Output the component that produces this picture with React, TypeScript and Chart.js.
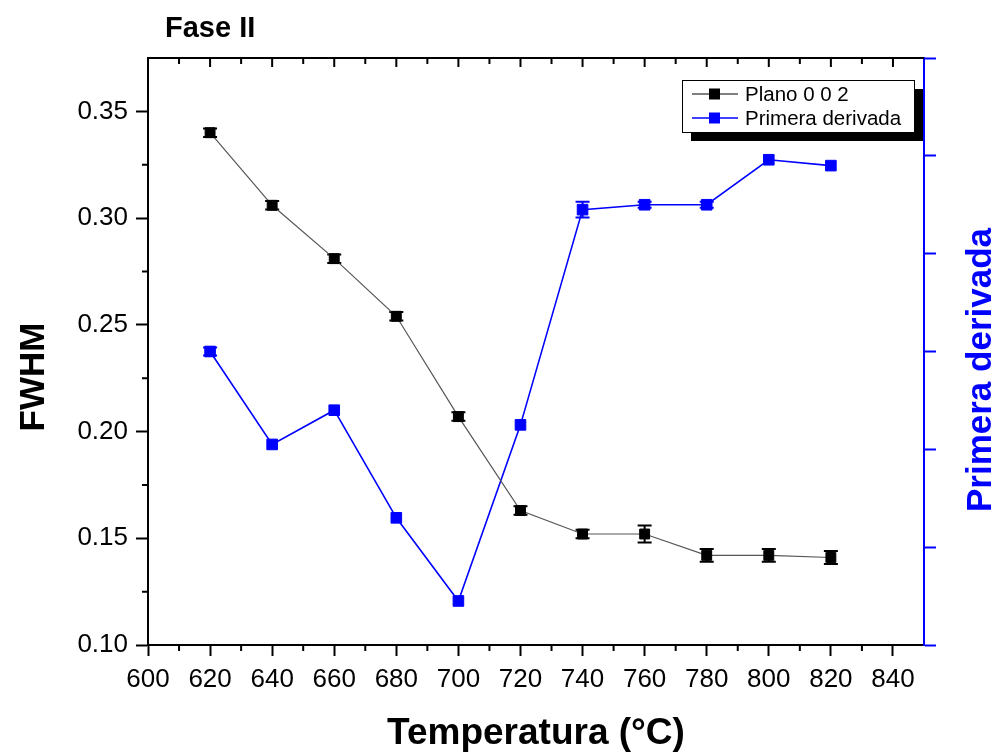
import React, { useEffect, useRef } from 'react';
import { Chart, registerables } from 'chart.js';

Chart.register(...registerables);

const temperatures = [620, 640, 660, 680, 700, 720, 740, 760, 780, 800, 820];
const fwhmPlano002 = [0.340, 0.306, 0.281, 0.254, 0.207, 0.163, 0.152, 0.152, 0.142, 0.142, 0.141];
const fwhmErrors = [0.002, 0.002, 0.002, 0.002, 0.002, 0.002, 0.002, 0.004, 0.003, 0.003, 0.003];
const primeraDerivada = [3.0, 2.05, 2.4, 1.3, 0.45, 2.25, 4.45, 4.5, 4.5, 4.96, 4.9];
const derivadaErrors = [0.04, 0, 0, 0, 0, 0, 0.08, 0.03, 0.03, 0, 0];

const xTickValues = [600, 620, 640, 660, 680, 700, 720, 740, 760, 780, 800, 820, 840];
const xMinorTickValues = [610, 630, 650, 670, 690, 710, 730, 750, 770, 790, 810, 830];
const yTickValues = [0.10, 0.15, 0.20, 0.25, 0.30, 0.35];
const yMinorTickValues = [0.125, 0.175, 0.225, 0.275, 0.325];
const y1TickValues = [0, 1, 2, 3, 4, 5, 6];

const seriesNames = ['Plano 0 0 2', 'Primera derivada'];
const chartTitle = 'Fase II';
const xTitle = 'Temperatura (°C)';
const yTitle = 'FWHM';
const y1Title = 'Primera derivada';

const FONT = "'Liberation Sans', Arial, sans-serif";
const BLUE = '#0000ff';

const decorPlugin = {
  id: 'decor',
  beforeDatasetsDraw(chart: any) {
    const ctx = chart.ctx;
    const x = chart.scales.x;
    const y = chart.scales.y;
    const y1 = chart.scales.y1;
    ctx.save();
    ctx.lineWidth = 2;
    const drawErr = (vals: number[], errs: number[], scale: any, color: string) => {
      ctx.strokeStyle = color;
      vals.forEach((v, i) => {
        const e = errs[i];
        if (!e) return;
        const px = x.getPixelForValue(temperatures[i]);
        const top = scale.getPixelForValue(v + e);
        const bot = scale.getPixelForValue(v - e);
        ctx.beginPath();
        ctx.moveTo(px, top);
        ctx.lineTo(px, bot);
        ctx.moveTo(px - 7, top);
        ctx.lineTo(px + 7, top);
        ctx.moveTo(px - 7, bot);
        ctx.lineTo(px + 7, bot);
        ctx.stroke();
      });
    };
    drawErr(fwhmPlano002, fwhmErrors, y, '#000');
    drawErr(primeraDerivada, derivadaErrors, y1, BLUE);
    ctx.restore();
  },
  afterDraw(chart: any) {
    const ctx = chart.ctx;
    const area = chart.chartArea;
    const x = chart.scales.x;
    const y = chart.scales.y;
    ctx.save();
    ctx.strokeStyle = '#000';
    ctx.lineWidth = 2;
    ctx.beginPath();
    ctx.moveTo(area.left, area.top);
    ctx.lineTo(area.right, area.top);
    ctx.stroke();
    ctx.beginPath();
    xTickValues.forEach((v) => {
      const px = x.getPixelForValue(v);
      ctx.moveTo(px, area.top);
      ctx.lineTo(px, area.top + 9);
    });
    xMinorTickValues.forEach((v) => {
      const px = x.getPixelForValue(v);
      ctx.moveTo(px, area.top);
      ctx.lineTo(px, area.top + 6);
    });
    xMinorTickValues.forEach((v) => {
      const px = x.getPixelForValue(v);
      ctx.moveTo(px, area.bottom);
      ctx.lineTo(px, area.bottom + 6);
    });
    yMinorTickValues.forEach((v) => {
      const py = y.getPixelForValue(v);
      ctx.moveTo(area.left, py);
      ctx.lineTo(area.left - 6, py);
    });
    ctx.stroke();

    ctx.fillStyle = '#000';
    ctx.textBaseline = 'middle';
    ctx.textAlign = 'left';
    ctx.font = `bold 29px ${FONT}`;
    ctx.fillText(chartTitle, area.left + 17, 29);

    ctx.textAlign = 'center';
    ctx.font = `bold 37px ${FONT}`;
    ctx.fillText(xTitle, (area.left + area.right) / 2, 734);

    ctx.save();
    ctx.translate(34, 377);
    ctx.rotate(-Math.PI / 2);
    ctx.font = `bold 35px ${FONT}`;
    ctx.fillText(yTitle, 0, 0);
    ctx.restore();

    ctx.save();
    ctx.translate(981, 370);
    ctx.rotate(-Math.PI / 2);
    ctx.fillStyle = BLUE;
    ctx.font = `bold 35px ${FONT}`;
    ctx.fillText(y1Title, 0, 0);
    ctx.restore();

    const bx = area.right - 242;
    const by = area.top + 22;
    const bw = 232;
    const bh = 52;
    ctx.fillStyle = '#000';
    ctx.fillRect(bx + 9, by + 9, bw, bh);
    ctx.fillStyle = '#fff';
    ctx.fillRect(bx, by, bw, bh);
    ctx.strokeStyle = '#000';
    ctx.lineWidth = 1;
    ctx.strokeRect(bx + 0.5, by + 0.5, bw, bh);
    const rows = [
      { label: seriesNames[0], line: '#555', fill: '#000', cy: by + 14 },
      { label: seriesNames[1], line: BLUE, fill: BLUE, cy: by + 38 },
    ];
    rows.forEach((r) => {
      ctx.strokeStyle = r.line;
      ctx.lineWidth = 1.5;
      ctx.beginPath();
      ctx.moveTo(bx + 10, r.cy);
      ctx.lineTo(bx + 56, r.cy);
      ctx.stroke();
      ctx.fillStyle = r.fill;
      ctx.fillRect(bx + 27, r.cy - 5.5, 11, 11);
      ctx.fillStyle = '#000';
      ctx.textAlign = 'left';
      ctx.textBaseline = 'middle';
      ctx.font = `20.5px ${FONT}`;
      ctx.fillText(r.label, bx + 63, r.cy + 1);
    });
    ctx.restore();
  },
};

export default function App() {
  const canvasRef = useRef<HTMLCanvasElement | null>(null);

  useEffect(() => {
    if (!canvasRef.current) return;
    const chart = new Chart(canvasRef.current, {
      type: 'line',
      data: {
        datasets: [
          {
            label: seriesNames[0],
            data: temperatures.map((t, i) => ({ x: t, y: fwhmPlano002[i] })),
            yAxisID: 'y',
            borderColor: '#555',
            borderWidth: 1.2,
            backgroundColor: '#000',
            pointBackgroundColor: '#000',
            pointBorderColor: '#000',
            pointStyle: 'rect',
            pointRadius: 7,
            pointBorderWidth: 1,
          },
          {
            label: seriesNames[1],
            data: temperatures.map((t, i) => ({ x: t, y: primeraDerivada[i] })),
            yAxisID: 'y1',
            borderColor: BLUE,
            borderWidth: 1.6,
            backgroundColor: BLUE,
            pointBackgroundColor: BLUE,
            pointBorderColor: BLUE,
            pointStyle: 'rect',
            pointRadius: 7.5,
            pointBorderWidth: 1,
          },
        ],
      },
      options: {
        animation: false,
        responsive: true,
        maintainAspectRatio: false,
        layout: { padding: { top: 58, left: 0, right: 0, bottom: 0 } },
        plugins: {
          legend: { display: false },
          title: { display: false },
          tooltip: { enabled: false },
        },
        scales: {
          x: {
            type: 'linear',
            position: 'bottom',
            min: 600,
            max: 850,
            afterBuildTicks: (scale: any) => {
              scale.ticks = xTickValues.map((v) => ({ value: v }));
            },
            afterFit: (scale: any) => {
              scale.height = 108;
            },
            grid: {
              drawOnChartArea: false,
              drawTicks: true,
              tickLength: 11,
              tickColor: '#000',
              tickWidth: 2,
            },
            border: { color: '#000', width: 2 },
            ticks: {
              color: '#000',
              font: { family: FONT, size: 26 },
              padding: 8,
              autoSkip: false,
              maxRotation: 0,
              callback: (v: any) => String(v),
            },
          },
          y: {
            type: 'linear',
            position: 'left',
            min: 0.1,
            max: 0.375,
            afterBuildTicks: (scale: any) => {
              scale.ticks = yTickValues.map((v) => ({ value: v }));
            },
            afterFit: (scale: any) => {
              scale.width = 148;
            },
            grid: {
              drawOnChartArea: false,
              drawTicks: true,
              tickLength: 12,
              tickColor: '#000',
              tickWidth: 2,
            },
            border: { color: '#000', width: 2 },
            ticks: {
              color: '#000',
              font: { family: FONT, size: 26 },
              padding: 8,
              callback: (v: any) => Number(v).toFixed(2),
            },
          },
          y1: {
            type: 'linear',
            position: 'right',
            min: 0,
            max: 6,
            afterBuildTicks: (scale: any) => {
              scale.ticks = y1TickValues.map((v) => ({ value: v }));
            },
            afterFit: (scale: any) => {
              scale.width = 72;
            },
            grid: {
              drawOnChartArea: false,
              drawTicks: true,
              tickLength: 12,
              tickColor: BLUE,
              tickWidth: 2,
            },
            border: { color: BLUE, width: 2 },
            ticks: {
              display: true,
              color: BLUE,
              callback: () => '',
            },
          },
        },
      },
      plugins: [decorPlugin],
    } as any);
    return () => chart.destroy();
  }, []);

  return (
    <div style={{ position: 'fixed', left: 0, top: 0, width: 996, height: 753, background: '#fff' }}>
      <canvas ref={canvasRef} />
    </div>
  );
}
